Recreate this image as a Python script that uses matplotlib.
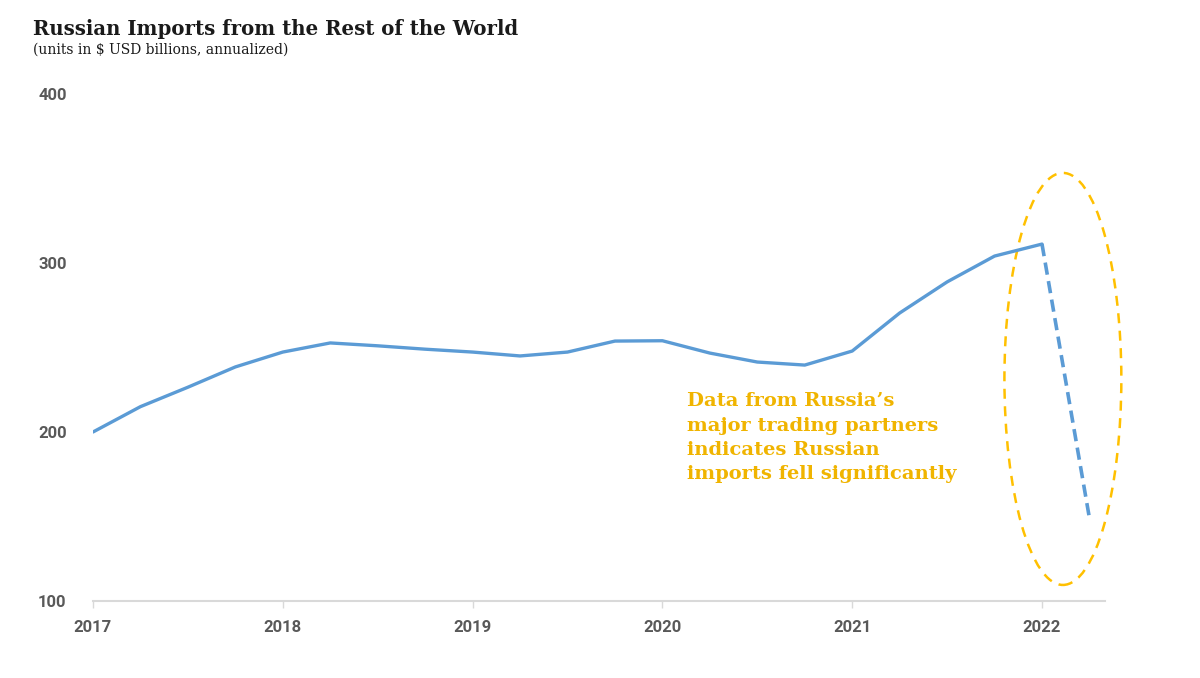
import matplotlib
matplotlib.use("Agg")
import matplotlib.pyplot as plt
from matplotlib.patches import Ellipse

# ---- data ----
quarters = [2017 + i / 4 for i in range(22)]
imports = [200, 215, 226.5, 238.5, 247.3, 252.7, 251, 249, 247.3, 245,
           247.3, 253.8, 254, 246.7, 241.4, 239.6, 247.9, 270.4, 288.8,
           304.1, 311.2, 149]
n_solid = 21  # last point is the estimated (dashed) drop
year_ticks = [2017, 2018, 2019, 2020, 2021, 2022]
y_ticks = [100, 200, 300, 400]

title = "Russian Imports from the Rest of the World"
subtitle = "(units in $ USD billions, annualized)"
note = "Data from Russia\u2019s\nmajor trading partners\nindicates Russian\nimports fell significantly"

blue = "#5B9BD5"
gold = "#FFC000"
gold_text = "#F0B400"
tick_col = "#595959"

fig = plt.figure(figsize=(12, 6.78), dpi=100)
ax = fig.add_axes([93 / 1200, 1 - 601 / 678, (1105 - 93) / 1200, (601 - 94) / 678])

ax.plot(quarters[:n_solid], imports[:n_solid], color=blue, lw=2.4,
        solid_joinstyle="round", solid_capstyle="round")
ax.plot(quarters[n_solid - 1:], imports[n_solid - 1:], color=blue, lw=2.6,
        ls=(0, (3.4, 1.8)))

ax.set_xlim(2017, 2022 + (1105 - 1042) / 189.8)
ax.set_ylim(100, 400)
ax.set_xticks(year_ticks)
ax.set_xticklabels([str(y) for y in year_ticks])
ax.set_yticks(y_ticks)

for s in ["top", "right", "left"]:
    ax.spines[s].set_visible(False)
ax.spines["bottom"].set_color("#D9D9D9")
ax.spines["bottom"].set_linewidth(1.5)
ax.tick_params(axis="x", length=5, width=1, color="#D9D9D9", pad=9)
ax.tick_params(axis="y", length=0, pad=19)
for lab in ax.get_xticklabels() + ax.get_yticklabels():
    lab.set_fontfamily("Roboto")
    lab.set_fontweight("bold")
    lab.set_fontsize(12)
    lab.set_color(tick_col)

# ellipse highlight
ell = Ellipse((2022.11, 231.4), width=0.616, height=243.8, fill=False,
              edgecolor=gold, lw=1.8, ls=(0, (4, 3)), clip_on=False)
ax.add_patch(ell)

ax.text(2020.13, 223.5, note, color=gold_text, fontsize=14,
        fontweight="bold", family="DejaVu Serif", va="top", ha="left",
        linespacing=1.45)

fig.text(33 / 1200, 1 - 35 / 678, title, fontsize=14.2, fontweight="bold",
         family="DejaVu Serif", color="#1a1a1a", ha="left", va="baseline")
fig.text(33 / 1200, 1 - 54 / 678, subtitle, fontsize=10,
         family="DejaVu Serif", color="#1a1a1a", ha="left", va="baseline")

fig.savefig("out.png", dpi=100)
